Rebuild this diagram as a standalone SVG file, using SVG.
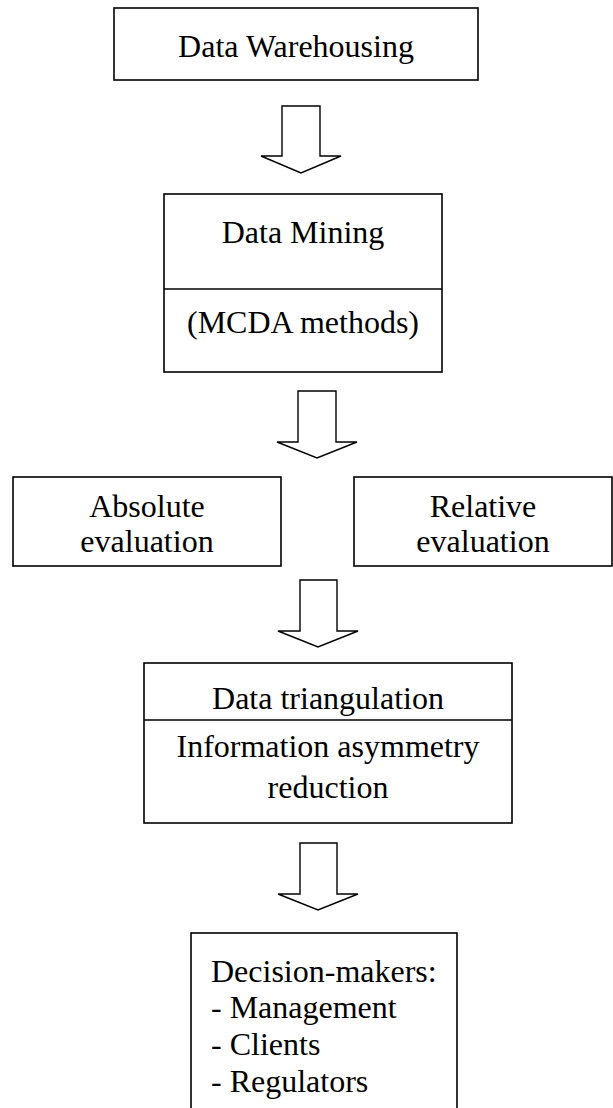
<svg xmlns="http://www.w3.org/2000/svg" width="613" height="1108" viewBox="0 0 613 1108">
  <style>
    .box { fill: #fff; stroke: #000; stroke-width: 1.6; }
    .div { stroke: #000; stroke-width: 1.6; }
    .arrow { fill: #fff; stroke: #000; stroke-width: 1.4; stroke-linejoin: miter; }
    .t { font-family: "Liberation Serif", "Times New Roman", serif; font-size: 32px; fill: #000; }
    .c { text-anchor: middle; }
  </style>
  <rect x="0" y="0" width="613" height="1108" fill="#fff"/>

  <g id="warehousing">
    <rect class="box" x="114" y="8" width="364" height="72"/>
    <text class="t c" x="296" y="57">Data Warehousing</text>
  </g>

  <g id="mining">
    <rect class="box" x="164" y="194" width="278" height="178"/>
    <line class="div" x1="164" y1="289" x2="442" y2="289"/>
    <text class="t c" x="303" y="243">Data Mining</text>
    <text class="t c" x="303" y="333">(MCDA methods)</text>
  </g>

  <g id="absolute">
    <rect class="box" x="13" y="477" width="268" height="89"/>
    <text class="t c" x="147" y="517">Absolute</text>
    <text class="t c" x="147" y="552">evaluation</text>
  </g>

  <g id="relative">
    <rect class="box" x="354" y="477" width="258" height="89"/>
    <text class="t c" x="483" y="517">Relative</text>
    <text class="t c" x="483" y="552">evaluation</text>
  </g>

  <g id="triangulation">
    <rect class="box" x="144" y="663" width="368" height="160"/>
    <line class="div" x1="144" y1="720" x2="512" y2="720"/>
    <text class="t c" x="328" y="709">Data triangulation</text>
    <text class="t c" x="328" y="757">Information asymmetry</text>
    <text class="t c" x="328" y="798">reduction</text>
  </g>

  <g id="decision-makers">
    <rect class="box" x="191" y="933" width="266" height="190"/>
    <text class="t" x="211" y="982">Decision-makers:</text>
    <text class="t" x="211" y="1018">- Management</text>
    <text class="t" x="211" y="1055">- Clients</text>
    <text class="t" x="211" y="1092">- Regulators</text>
  </g>

  <g id="connectors">
    <polygon class="arrow" points="282,106 320,106 320,156 341,156 301,173 261,156 282,156"/>
    <polygon class="arrow" points="298,391 336,391 336,442 357,442 317,458 277,442 298,442"/>
    <polygon class="arrow" points="300,580 337,580 337,631 358,631 318,647 278,631 300,631"/>
    <polygon class="arrow" points="300,843 337,843 337,894 358,894 318,910 278,894 300,894"/>
  </g>
</svg>
